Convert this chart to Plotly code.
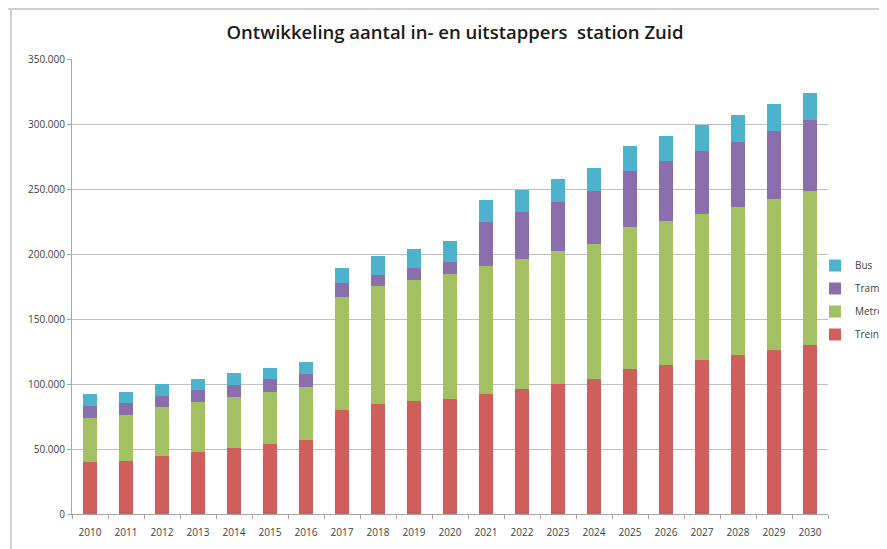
import plotly.graph_objects as go

years = [str(y) for y in range(2010, 2031)]
trein = [40000, 41000, 45000, 47700, 50800, 53800, 57000, 80000, 85000, 87000, 88700,
         92300, 96000, 99700, 103500, 111200, 114800, 118700, 122500, 126400, 130000]
metro = [34000, 35500, 37000, 38200, 39000, 39800, 41000, 87000, 90300, 93200, 96100,
         98100, 100000, 102800, 104100, 109200, 110700, 112000, 113800, 115900, 118100]
tram = [9000, 8700, 9000, 9500, 9700, 10200, 10000, 10500, 8700, 8700, 9000,
        34600, 36400, 37700, 40500, 43600, 45700, 48200, 50200, 52500, 55100]
bus = [9000, 8500, 9000, 8700, 8700, 8700, 9200, 12000, 14100, 14900, 16200,
       16500, 17000, 17200, 18000, 19200, 19700, 20300, 20600, 20500, 20600]
y_ticks = [0, 50000, 100000, 150000, 200000, 250000, 300000, 350000]

series = [("Trein", trein, "#CF5F5B"), ("Metro", metro, "#A3C163"),
          ("Tram", tram, "#8B6FAD"), ("Bus", bus, "#4DB3CC")]

fig = go.Figure()
for i, (name, vals, col) in enumerate(series):
    fig.add_trace(go.Bar(x=years, y=vals, name=name, marker=dict(color=col, line=dict(width=0)),
                         legendgroup=name, legendrank=1000 - i))

W, H = 887, 549
OFF = 8  # page offset of the figure
L, R, T, B = 72 - OFF, 67, 59 - OFF, 43
pw, ph = W - L - R, H - T - B

def px(xpage):
    return (xpage - OFF - L) / pw

def py(ypage):
    return (H - B - (ypage - OFF)) / ph

fig.update_layout(
    width=W, height=H,
    margin=dict(l=L, r=R, t=T, b=B, autoexpand=False),
    paper_bgcolor="white", plot_bgcolor="white",
    barmode="stack", bargap=0.6,
    separators=",.",
    font=dict(family="Open Sans, sans-serif", color="#404040", size=10),
    title=dict(text="Ontwikkeling aantal in- en uitstappers  station Zuid",
               x=px(455), xref="paper", xanchor="center",
               y=1 - (33 - OFF) / H, yanchor="middle",
               font=dict(family="Open Sans, sans-serif", size=18.5, color="#1a1a1a", weight=600)),
    legend=dict(traceorder="grouped", x=px(815), xanchor="left", y=py(251), yanchor="top",
                bgcolor="rgba(0,0,0,0)", font=dict(size=10, color="#404040"),
                tracegroupgap=4, itemwidth=30),
    showlegend=True,
    xaxis=dict(showline=True, linecolor="#A6A6A6", linewidth=1, ticks="outside",
               tickson="boundaries", ticklen=4, tickcolor="#A6A6A6", ticklabelstandoff=9,
               tickfont=dict(size=10, color="#404040"), showgrid=False),
    yaxis=dict(range=[0, 350000], tickvals=y_ticks, tickformat=",.0f",
               showline=True, linecolor="#A6A6A6", linewidth=1, ticks="outside",
               ticklen=4, tickcolor="#A6A6A6", showgrid=True, gridcolor="#BFBFBF",
               gridwidth=1, zeroline=False, tickfont=dict(size=10, color="#404040")),
    shapes=[
        dict(type="line", xref="paper", yref="paper", x0=px(8), x1=px(900), y0=py(9), y1=py(9),
             line=dict(color="#D0D0D0", width=2)),
        dict(type="line", xref="paper", yref="paper", x0=px(11), x1=px(11), y0=py(9), y1=py(560),
             line=dict(color="#D0D0D0", width=2)),
    ],
)

fig.write_html("out.html")
